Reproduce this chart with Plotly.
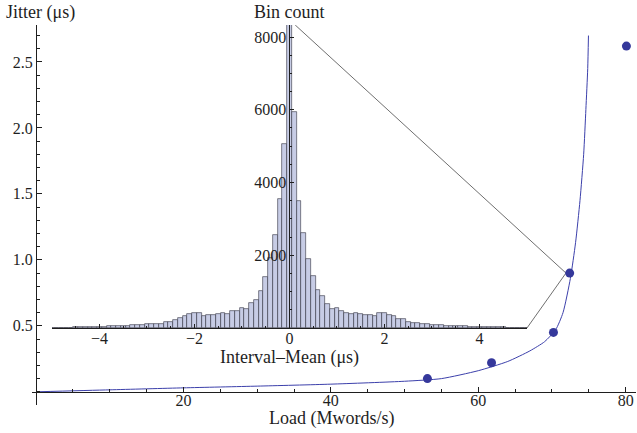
import plotly.graph_objects as go

# ---------------- data ----------------
load = [53.1, 61.8, 70.2, 72.4, 80.1]
jitter = [0.10, 0.22, 0.45, 0.90, 2.62]

curve_load = [0, 10, 20, 30, 40, 50, 55, 60, 64, 67, 69, 70.5, 71.5, 72.5,
              73.2, 73.8, 74.3, 74.6, 74.85, 74.95]
curve_jitter = [0.0, 0.015, 0.03, 0.043, 0.058, 0.08, 0.10, 0.16, 0.23, 0.31,
                0.38, 0.47, 0.60, 0.86, 1.13, 1.45, 1.80, 2.14, 2.45, 2.70]

bin_centers = [
    -5.0, -4.9, -4.8, -4.7, -4.6, -4.5, -4.4, -4.3, -4.2, -4.1,
    -4.0, -3.9, -3.8, -3.7, -3.6, -3.5, -3.4, -3.3, -3.2, -3.1,
    -3.0, -2.9, -2.8, -2.7, -2.6, -2.5, -2.4, -2.3, -2.2, -2.1,
    -2.0, -1.9, -1.8, -1.7, -1.6, -1.5, -1.4, -1.3, -1.2, -1.1,
    -1.0, -0.9, -0.8, -0.7, -0.6, -0.5, -0.4, -0.3, -0.2, -0.1,
    0.0, 0.1, 0.2, 0.3, 0.4, 0.5, 0.6, 0.7, 0.8, 0.9,
    1.0, 1.1, 1.2, 1.3, 1.4, 1.5, 1.6, 1.7, 1.8, 1.9,
    2.0, 2.1, 2.2, 2.3, 2.4, 2.5, 2.6, 2.7, 2.8, 2.9,
    3.0, 3.1, 3.2, 3.3, 3.4, 3.5, 3.6, 3.7, 3.8, 3.9,
    4.0, 4.1, 4.2, 4.3, 4.4, 4.5, 4.6, 4.7, 4.8, 4.9, 5.0]
bin_counts = [
    0, 3, 5, 8, 10, 15, 18, 20, 25, 28,
    35, 38, 42, 45, 50, 55, 62, 70, 78, 88,
    100, 110, 112, 122, 165, 170, 230, 265, 330, 375,
    412, 412, 335, 366, 366, 385, 412, 394, 465, 475,
    550, 530, 685, 775, 1020, 1400, 1920, 2550, 3560, 5070,
    8900, 5930, 3490, 2600, 1900, 1440, 1050, 870, 667, 530,
    548, 465, 420, 394, 412, 375, 366, 366, 330, 412,
    412, 366, 320, 256, 250, 165, 137, 137, 100, 100,
    90, 80, 72, 65, 58, 52, 48, 45, 40, 35,
    30, 28, 25, 22, 18, 15, 12, 10, 7, 5, 0]

main_x_ticks = [20, 40, 60, 80]
main_y_ticks = [0.5, 1.0, 1.5, 2.0, 2.5]
inset_x_ticks = [-4, -2, 0, 2, 4]
inset_y_ticks = [2000, 4000, 6000, 8000]

# ---------------- layout geometry ----------------
W, H = 637, 433
ML, MR, MT, MB = 32, 1, 25, 28
XR = [-0.55, 81.4]
YR = [-0.10, 2.78]
IXR = [-5, 5]
IYR = [0, 8330]
IX_DOM = [0.0331, 0.8195]
IY_DOM = [0.2026, 1.0]

FONT = "Liberation Serif"
INK = "#1e1e1e"
BLUE_PT = "#35389b"
BLUE_LN = "#3c40ab"


def inset_to_main(xi, yi):
    fx = IX_DOM[0] + (xi - IXR[0]) / (IXR[1] - IXR[0]) * (IX_DOM[1] - IX_DOM[0])
    fy = IY_DOM[0] + (yi - IYR[0]) / (IYR[1] - IYR[0]) * (IY_DOM[1] - IY_DOM[0])
    return XR[0] + fx * (XR[1] - XR[0]), YR[0] + fy * (YR[1] - YR[0])


fig = go.Figure()

fig.add_trace(go.Scatter(x=curve_load, y=curve_jitter, mode="lines",
                         line=dict(color=BLUE_LN, width=1, shape="spline", smoothing=0.6),
                         xaxis="x", yaxis="y", hoverinfo="skip"))
fig.add_trace(go.Scatter(x=load, y=jitter, mode="markers",
                         marker=dict(color=BLUE_PT, size=9),
                         xaxis="x", yaxis="y"))

fig.add_trace(go.Bar(x=bin_centers, y=bin_counts, width=0.1,
                     marker=dict(color="#c7cce5",
                                 line=dict(color="rgba(45,45,60,0.85)", width=0.7)),
                     xaxis="x2", yaxis="y2"))

common = dict(showgrid=False, zeroline=False, showline=True, linecolor=INK,
              linewidth=1, ticks="inside", tickcolor=INK, tickwidth=1,
              automargin=False,
              tickfont=dict(family=FONT, size=16, color=INK))

fig.update_layout(
    width=W, height=H,
    margin=dict(l=ML, r=MR, t=MT, b=MB, autoexpand=False),
    paper_bgcolor="white", plot_bgcolor="rgba(0,0,0,0)",
    showlegend=False, bargap=0,
    xaxis=dict(range=XR, domain=[0, 1], anchor="free",
               position=(0 - YR[0]) / (YR[1] - YR[0]),
               tickmode="array", tickvals=main_x_ticks, ticklen=5,
               ticklabelstandoff=-6,
               minor=dict(ticks="inside", ticklen=3, tickmode="linear",
                          tick0=0, dtick=5, tickcolor=INK),
               **common),
    yaxis=dict(range=YR, domain=[0, 1], anchor="free",
               position=(0 - XR[0]) / (XR[1] - XR[0]),
               tickmode="array", tickvals=main_y_ticks, ticktext=[f"{v:.1f}" for v in main_y_ticks],
               ticklen=5,
               minor=dict(ticks="inside", ticklen=3, tickmode="linear",
                          tick0=0, dtick=0.1, tickcolor=INK),
               **common),
    xaxis2=dict(range=IXR, domain=IX_DOM, anchor="y2",
                tickmode="array", tickvals=inset_x_ticks, ticklen=4,
                ticklabelstandoff=-4,
                minor=dict(ticks="inside", ticklen=2, tickmode="linear",
                           tick0=0, dtick=0.5, tickcolor=INK),
                **common),
    yaxis2=dict(range=IYR, domain=IY_DOM, anchor="free",
                position=IX_DOM[0] + (0 - IXR[0]) / (IXR[1] - IXR[0]) * (IX_DOM[1] - IX_DOM[0]),
                tickmode="array", tickvals=inset_y_ticks, ticklen=4,
                minor=dict(ticks="inside", ticklen=2, tickmode="linear",
                           tick0=0, dtick=500, tickcolor=INK),
                **common),
)

# connector lines from the inset to the zoomed point
tx, ty = load[3] - 0.5, jitter[3]
for xi, yi in [(0.12, IYR[1]), (IXR[1], 0)]:
    sx, sy = inset_to_main(xi, yi)
    fig.add_shape(type="line", xref="x", yref="y", x0=sx, y0=sy, x1=tx, y1=ty,
                  line=dict(color="#4a4a4a", width=0.8), layer="below")

# text positions given in page pixels
PW, PH = W - ML - MR, H - MT - MB


def px_x(p):
    return (p - ML) / PW


def px_y(p):
    return 1 - (p - MT) / PH


title_font = dict(family=FONT, size=18, color=INK)
fig.add_annotation(text="Jitter (μs)", xref="paper", yref="paper",
                   x=px_x(4), y=px_y(12),
                   xanchor="left", yanchor="middle", showarrow=False, font=title_font)
fig.add_annotation(text="Load (Mwords/s)", xref="paper", yref="paper",
                   x=px_x(331), y=px_y(418),
                   xanchor="center", yanchor="middle", showarrow=False, font=title_font)
inset_mid = IX_DOM[0] + 0.5 * (IX_DOM[1] - IX_DOM[0])
fig.add_annotation(text="Bin count", xref="paper", yref="paper",
                   x=inset_mid, y=px_y(12),
                   xanchor="center", yanchor="middle", showarrow=False, font=title_font)
fig.add_annotation(text="Interval–Mean (μs)", xref="paper", yref="paper",
                   x=inset_mid, y=px_y(357),
                   xanchor="center", yanchor="middle", showarrow=False, font=title_font)

fig.write_html("out.html", config={"displayModeBar": False},
               post_script="document.body.style.margin='0';document.body.style.overflow='hidden';")
